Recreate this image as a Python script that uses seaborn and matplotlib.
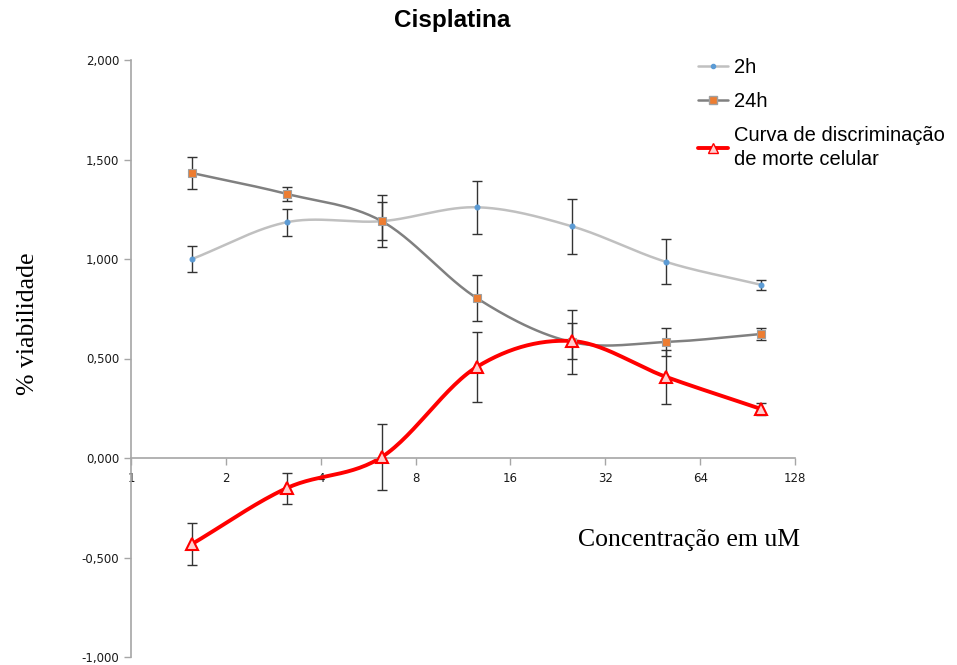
import numpy as np
import pandas as pd
import matplotlib
matplotlib.use("Agg")
import matplotlib.pyplot as plt
import seaborn as sns
from matplotlib.ticker import FuncFormatter, FixedLocator
from matplotlib.lines import Line2D

# ---- data ----
conc = [1.5625, 3.125, 6.25, 12.5, 25, 50, 100]
v2h = [1.00, 1.185, 1.19, 1.26, 1.165, 0.985, 0.87]
e2h = [0.065, 0.068, 0.095, 0.133, 0.138, 0.113, 0.025]
v24h = [1.432, 1.327, 1.19, 0.804, 0.583, 0.583, 0.623]
e24h = [0.08, 0.035, 0.13, 0.116, 0.16, 0.07, 0.03]
vred = [-0.432, -0.151, 0.005, 0.457, 0.588, 0.407, 0.246]
ered = [0.105, 0.078, 0.165, 0.176, 0.088, 0.135, 0.03]
xticks = [1, 2, 4, 8, 16, 32, 64, 128]
series_names = ["2h", "24h", "Curva de discriminação\nde morte celular"]


def smooth(xs, ys, n=30):
    # Catmull-Rom smoothing in (log2 x, y) space for line display
    lx = np.log2(np.asarray(xs, float))
    y = np.asarray(ys, float)
    P = np.column_stack([lx, y])
    P = np.vstack([2 * P[0] - P[1], P, 2 * P[-1] - P[-2]])
    out = []
    for i in range(1, len(P) - 2):
        p0, p1, p2, p3 = P[i - 1], P[i], P[i + 1], P[i + 2]
        t = np.linspace(0, 1, n, endpoint=(i == len(P) - 3))[:, None]
        c = 0.5 * ((2 * p1) + (-p0 + p2) * t + (2 * p0 - 5 * p1 + 4 * p2 - p3) * t ** 2
                   + (-p0 + 3 * p1 - 3 * p2 + p3) * t ** 3)
        out.append(c)
    c = np.vstack(out)
    return 2 ** c[:, 0], c[:, 1]


sns.set_style("white")
plt.rcParams["font.family"] = ["DejaVu Sans"]

fig = plt.figure(figsize=(9.57, 6.65), dpi=100)
ax = fig.add_axes([131 / 957, 1 - 657 / 665, (795 - 131) / 957, (657 - 60) / 665])

styles = [
    dict(color="#c0c0c0", lw=1.8, marker="o", ms=3.5, mfc="#5b9bd5", mec="#5b9bd5"),
    dict(color="#808080", lw=1.8, marker="s", ms=6, mfc="#ed7d31", mec="#a0a0a0"),
    dict(color="#ff0000", lw=2.8, marker="^", ms=8, mfc="#ffd0d0", mec="#ff0000"),
]
vals = [v2h, v24h, vred]
errs = [e2h, e24h, ered]

for name, v, e, st in zip(series_names, vals, errs, styles):
    sx, sy = smooth(conc, v)
    df = pd.DataFrame({"x": sx, "y": sy})
    sns.lineplot(data=df, x="x", y="y", ax=ax, color=st["color"], lw=st["lw"],
                 sort=False, estimator=None, zorder=2)
    ax.errorbar(conc, v, yerr=e, fmt="none", ecolor="#333333", elinewidth=1.0,
                capsize=3.5, capthick=1.0, zorder=3)
    ax.plot(conc, v, ls="none", marker=st["marker"], ms=st["ms"], mfc=st["mfc"],
            mec=st["mec"], mew=1.5 if st["marker"] == "^" else 0.8, zorder=4)

ax.set_xscale("log", base=2)
ax.set_xlim(1, 128)
ax.set_ylim(-1.0, 2.0)
ax.xaxis.set_major_locator(FixedLocator(xticks))
ax.xaxis.set_minor_locator(FixedLocator([]))
ax.xaxis.set_major_formatter(FuncFormatter(lambda v, p: f"{int(round(v))}"))
ax.yaxis.set_major_locator(FixedLocator(np.arange(-1.0, 2.01, 0.5)))
ax.yaxis.set_major_formatter(FuncFormatter(lambda v, p: f"{v:.3f}".replace(".", ",")))

for s in ["top", "right"]:
    ax.spines[s].set_visible(False)
ax.spines["bottom"].set_position(("data", 0))
for s in ["left", "bottom"]:
    ax.spines[s].set_color("#a6a6a6")
    ax.spines[s].set_linewidth(1.2)
ax.tick_params(axis="both", which="major", direction="out", color="#a6a6a6", width=1.0,
               length=5, labelsize=8.5, labelcolor="#1a1a1a", left=True, bottom=True)
ax.tick_params(axis="x", pad=5)
ax.set_xlabel("")
ax.set_ylabel("")

fig.text(452 / 957, 1 - 20 / 665, "Cisplatina", ha="center", va="center", color="black",
         fontsize=17.5, fontweight="bold", family=["Liberation Sans"])
fig.text(28 / 957, 1 - 324 / 665, "% viabilidade", rotation=90, ha="center", va="center",
         color="black", fontsize=18.5, family=["Liberation Serif"])
fig.text(689 / 957, 1 - 540 / 665, "Concentração em uM", ha="center", va="center",
         color="black", fontsize=18.5, family=["Liberation Serif"])

handles = [Line2D([], [], color=st["color"], lw=st["lw"], marker=st["marker"],
                  ms=st["ms"] * 0.85, mfc=st["mfc"], mec=st["mec"]) for st in styles]
leg = fig.legend(handles, series_names, loc="upper left", bbox_to_anchor=(680 / 957, 1 - 40 / 665),
                 frameon=False, prop={"family": "Liberation Sans", "size": 14.5},
                 handlelength=1.5, handletextpad=0.3, labelspacing=0.75)
for t in leg.get_texts():
    t.set_color("black")
    t.set_linespacing(1.3)

fig.savefig("out.png", dpi=100)
